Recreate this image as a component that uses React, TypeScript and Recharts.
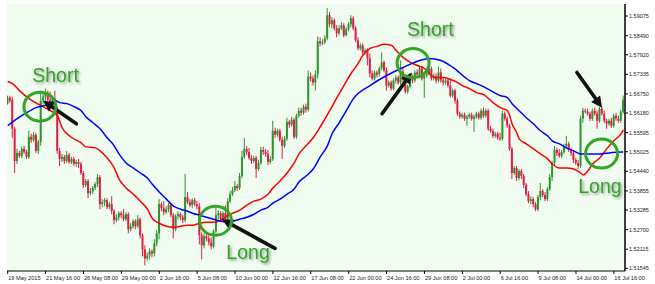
import React from "react";
import {
  ComposedChart,
  XAxis,
  YAxis,
  Bar,
  Line,
  CartesianGrid,
  ReferenceDot,
  ReferenceLine,
} from "recharts";

// H4 candles, 19 May 2015 – 16 Jul 2015 (bar index 0..260)
const opens = [
  1.5646, 1.5664, 1.5658, 1.5571, 1.5475, 1.5499, 1.549, 1.5511, 1.5502, 1.5487,
  1.5547, 1.5538, 1.5553, 1.5505, 1.5532, 1.5655, 1.5667, 1.5679, 1.5658, 1.5643,
  1.5661, 1.5631, 1.5505, 1.5481, 1.5487, 1.5475, 1.5493, 1.5472, 1.5481, 1.5466,
  1.5472, 1.5466, 1.5439, 1.5403, 1.5415, 1.5379, 1.5385, 1.5394, 1.5406, 1.5427,
  1.5346, 1.5352, 1.5358, 1.5337, 1.5346, 1.5325, 1.5298, 1.5307, 1.5319, 1.5313,
  1.5301, 1.5316, 1.5271, 1.528, 1.5295, 1.528, 1.5301, 1.5253, 1.5211, 1.5184,
  1.5193, 1.5205, 1.5199, 1.5229, 1.5259, 1.5346, 1.5334, 1.5322, 1.5331, 1.5343,
  1.5313, 1.5271, 1.531, 1.5316, 1.5307, 1.5298, 1.5367, 1.5352, 1.5343, 1.5358,
  1.5346, 1.534, 1.5253, 1.5223, 1.525, 1.5244, 1.5232, 1.522, 1.5265, 1.5313,
  1.5319, 1.5301, 1.5319, 1.5301, 1.5355, 1.5376, 1.5388, 1.54, 1.5394, 1.543,
  1.5487, 1.5511, 1.5502, 1.5484, 1.5475, 1.5484, 1.5451, 1.5469, 1.5508, 1.5502,
  1.5496, 1.5472, 1.5481, 1.5565, 1.5553, 1.5565, 1.5538, 1.552, 1.5541, 1.5592,
  1.5583, 1.5598, 1.5547, 1.561, 1.5625, 1.5619, 1.5637, 1.5628, 1.5727, 1.5721,
  1.5709, 1.5733, 1.5832, 1.5826, 1.5829, 1.5841, 1.591, 1.5883, 1.5895, 1.5871,
  1.5856, 1.5871, 1.588, 1.585, 1.5868, 1.5883, 1.5901, 1.5871, 1.5835, 1.5811,
  1.582, 1.5799, 1.5805, 1.5781, 1.5736, 1.5721, 1.5739, 1.5733, 1.5751, 1.5769,
  1.5745, 1.57, 1.5709, 1.5691, 1.5715, 1.5724, 1.5709, 1.5742, 1.5718, 1.5682,
  1.5697, 1.5727, 1.5715, 1.5739, 1.5733, 1.5751, 1.5721, 1.573, 1.5736, 1.5751,
  1.5721, 1.5727, 1.5715, 1.5739, 1.5715, 1.5709, 1.5715, 1.57, 1.567, 1.5685,
  1.5655, 1.5616, 1.5607, 1.5613, 1.5601, 1.5607, 1.5613, 1.5601, 1.5607, 1.5616,
  1.5604, 1.5625, 1.561, 1.5625, 1.5571, 1.5565, 1.555, 1.5556, 1.5544, 1.5541,
  1.5616, 1.5601, 1.558, 1.5511, 1.5439, 1.5454, 1.5424, 1.5445, 1.543, 1.5403,
  1.5376, 1.5355, 1.5361, 1.5346, 1.5331, 1.5367, 1.5385, 1.5373, 1.5361, 1.5391,
  1.5427, 1.5469, 1.5508, 1.5499, 1.549, 1.5502, 1.552, 1.5526, 1.5508, 1.5499,
  1.5478, 1.5469, 1.546, 1.5601, 1.5625, 1.5622, 1.5616, 1.5601, 1.5625, 1.5616,
  1.5595, 1.5631, 1.5616, 1.5595, 1.5586, 1.5595, 1.558, 1.561, 1.5601, 1.5595,
  1.5622,
];

const highs = [
  1.567, 1.567, 1.5667, 1.5577, 1.5511, 1.5505, 1.5517, 1.552, 1.5508, 1.5565,
  1.5556, 1.5562, 1.5559, 1.5538, 1.5685, 1.5676, 1.5691, 1.5685, 1.5682, 1.567,
  1.5685, 1.5637, 1.5514, 1.5496, 1.5493, 1.5505, 1.5499, 1.5487, 1.5487, 1.5478,
  1.5481, 1.5472, 1.5445, 1.5421, 1.5421, 1.5394, 1.54, 1.5412, 1.5436, 1.5433,
  1.5361, 1.5364, 1.5364, 1.5352, 1.537, 1.5331, 1.5316, 1.5325, 1.5325, 1.5331,
  1.5322, 1.5322, 1.5289, 1.5301, 1.5301, 1.5313, 1.5307, 1.5259, 1.5223, 1.5202,
  1.5214, 1.5211, 1.5241, 1.5268, 1.5361, 1.5352, 1.5355, 1.534, 1.5349, 1.5349,
  1.5319, 1.5316, 1.5325, 1.5322, 1.5313, 1.5436, 1.5382, 1.5361, 1.5364, 1.5364,
  1.5355, 1.5349, 1.5262, 1.5259, 1.5259, 1.5253, 1.5247, 1.5271, 1.534, 1.5328,
  1.5325, 1.5325, 1.5343, 1.5364, 1.5385, 1.5397, 1.5415, 1.5406, 1.5439, 1.5505,
  1.5544, 1.552, 1.5514, 1.5493, 1.549, 1.549, 1.5478, 1.5517, 1.5517, 1.5511,
  1.5508, 1.549, 1.5595, 1.5574, 1.5571, 1.5571, 1.5547, 1.555, 1.5604, 1.5598,
  1.5607, 1.5604, 1.5616, 1.5634, 1.5634, 1.5643, 1.5646, 1.5745, 1.5739, 1.573,
  1.5745, 1.5847, 1.5844, 1.5838, 1.585, 1.5931, 1.5919, 1.5904, 1.5901, 1.588,
  1.588, 1.5889, 1.5886, 1.5874, 1.5889, 1.591, 1.5907, 1.5877, 1.5844, 1.5826,
  1.5826, 1.5811, 1.5811, 1.5796, 1.5745, 1.5745, 1.5745, 1.5757, 1.5799, 1.5775,
  1.5754, 1.5715, 1.5715, 1.5721, 1.573, 1.573, 1.5775, 1.5751, 1.5727, 1.5703,
  1.5736, 1.5733, 1.5745, 1.5748, 1.5757, 1.5757, 1.5739, 1.5745, 1.576, 1.5757,
  1.5736, 1.5736, 1.5757, 1.5751, 1.5724, 1.5721, 1.5721, 1.5721, 1.5691, 1.5691,
  1.5661, 1.5622, 1.5619, 1.5619, 1.5613, 1.5619, 1.5619, 1.5613, 1.5622, 1.5622,
  1.5631, 1.5634, 1.5631, 1.5631, 1.558, 1.5571, 1.5562, 1.5562, 1.5559, 1.5625,
  1.5622, 1.5607, 1.5586, 1.5517, 1.546, 1.546, 1.5451, 1.5451, 1.5436, 1.5409,
  1.5385, 1.537, 1.5367, 1.5352, 1.5373, 1.5409, 1.5391, 1.5382, 1.5397, 1.5436,
  1.5475, 1.552, 1.5514, 1.5511, 1.5508, 1.5526, 1.555, 1.5532, 1.5514, 1.5505,
  1.5484, 1.5478, 1.561, 1.5634, 1.5631, 1.5631, 1.5622, 1.5631, 1.5634, 1.5625,
  1.5637, 1.5637, 1.5625, 1.5601, 1.5601, 1.5604, 1.5616, 1.5619, 1.561, 1.5628,
  1.567,
];

const lows = [
  1.5643, 1.5649, 1.5544, 1.5439, 1.5466, 1.5484, 1.5484, 1.5496, 1.5481, 1.5481,
  1.5529, 1.5532, 1.5499, 1.5496, 1.552, 1.5643, 1.5652, 1.5652, 1.5637, 1.564,
  1.5625, 1.5496, 1.546, 1.5472, 1.5466, 1.5469, 1.5466, 1.5466, 1.546, 1.5457,
  1.5454, 1.5433, 1.5394, 1.5397, 1.5364, 1.5373, 1.5376, 1.5388, 1.5397, 1.5331,
  1.5337, 1.534, 1.5331, 1.5331, 1.5316, 1.5286, 1.5292, 1.5298, 1.5304, 1.5295,
  1.5295, 1.5259, 1.5265, 1.5274, 1.5271, 1.5274, 1.5244, 1.519, 1.5163, 1.5178,
  1.5181, 1.5187, 1.519, 1.522, 1.5241, 1.5325, 1.5313, 1.5316, 1.5322, 1.5307,
  1.5244, 1.5265, 1.5301, 1.5298, 1.5289, 1.5292, 1.5346, 1.5337, 1.5334, 1.534,
  1.5331, 1.5226, 1.5181, 1.5214, 1.5235, 1.5223, 1.5211, 1.5214, 1.5259, 1.5301,
  1.5295, 1.5295, 1.5292, 1.5295, 1.5349, 1.537, 1.5382, 1.5385, 1.5388, 1.5424,
  1.5481, 1.5493, 1.5478, 1.5466, 1.5469, 1.5424, 1.5445, 1.5463, 1.5493, 1.5487,
  1.5463, 1.5466, 1.5475, 1.5544, 1.5547, 1.5532, 1.5481, 1.5514, 1.5535, 1.5574,
  1.5577, 1.5541, 1.5541, 1.5604, 1.561, 1.5613, 1.5619, 1.5622, 1.5712, 1.57,
  1.5685, 1.5721, 1.5817, 1.582, 1.5823, 1.5835, 1.5874, 1.5871, 1.5865, 1.5844,
  1.585, 1.5865, 1.5844, 1.5847, 1.5862, 1.5874, 1.5865, 1.5829, 1.5805, 1.5805,
  1.579, 1.5793, 1.576, 1.5724, 1.5715, 1.5715, 1.5724, 1.5727, 1.5745, 1.5739,
  1.5685, 1.5694, 1.5685, 1.5685, 1.5706, 1.5703, 1.5703, 1.5712, 1.5676, 1.5676,
  1.5691, 1.5706, 1.5709, 1.5724, 1.5727, 1.5715, 1.5664, 1.5724, 1.573, 1.5715,
  1.5715, 1.5706, 1.5709, 1.5709, 1.57, 1.5703, 1.5694, 1.5664, 1.5664, 1.5646,
  1.561, 1.5601, 1.5601, 1.5595, 1.558, 1.5601, 1.5595, 1.5562, 1.5601, 1.5598,
  1.5598, 1.5604, 1.5604, 1.5565, 1.5559, 1.5544, 1.5544, 1.5538, 1.5535, 1.5535,
  1.5595, 1.5574, 1.5505, 1.5421, 1.5433, 1.5415, 1.5418, 1.5421, 1.5394, 1.537,
  1.5349, 1.5346, 1.5337, 1.5325, 1.5325, 1.5358, 1.5367, 1.5355, 1.5355, 1.5385,
  1.5415, 1.5463, 1.549, 1.5484, 1.5484, 1.5496, 1.5511, 1.5502, 1.549, 1.5469,
  1.5463, 1.5451, 1.5454, 1.5589, 1.5616, 1.561, 1.5595, 1.5595, 1.561, 1.5571,
  1.5589, 1.561, 1.5589, 1.5571, 1.558, 1.5574, 1.5574, 1.5595, 1.5589, 1.5589,
  1.5616,
];

const closes = [
  1.5664, 1.5655, 1.5571, 1.5475, 1.5499, 1.549, 1.5511, 1.5502, 1.5487, 1.5547,
  1.5538, 1.5553, 1.5505, 1.5532, 1.5655, 1.5667, 1.5679, 1.5658, 1.5643, 1.5661,
  1.5631, 1.5505, 1.5481, 1.5487, 1.5475, 1.5493, 1.5472, 1.5481, 1.5466, 1.5472,
  1.5466, 1.5439, 1.5403, 1.5415, 1.5379, 1.5385, 1.5394, 1.5406, 1.5427, 1.5346,
  1.5352, 1.5358, 1.5337, 1.5346, 1.5325, 1.5298, 1.5307, 1.5319, 1.5313, 1.5301,
  1.5316, 1.5271, 1.528, 1.5295, 1.528, 1.5301, 1.5253, 1.5211, 1.5184, 1.5193,
  1.5205, 1.5199, 1.5229, 1.5259, 1.5346, 1.5334, 1.5322, 1.5331, 1.5343, 1.5313,
  1.5271, 1.531, 1.5316, 1.5307, 1.5298, 1.5367, 1.5352, 1.5343, 1.5358, 1.5346,
  1.534, 1.5253, 1.5223, 1.525, 1.5244, 1.5232, 1.522, 1.5265, 1.5313, 1.5319,
  1.5301, 1.5319, 1.5301, 1.5355, 1.5376, 1.5388, 1.54, 1.5394, 1.543, 1.5487,
  1.5511, 1.5502, 1.5484, 1.5475, 1.5484, 1.5451, 1.5469, 1.5508, 1.5502, 1.5496,
  1.5472, 1.5481, 1.5565, 1.5553, 1.5565, 1.5538, 1.552, 1.5541, 1.5592, 1.5583,
  1.5598, 1.5547, 1.561, 1.5625, 1.5619, 1.5637, 1.5628, 1.5727, 1.5721, 1.5709,
  1.5733, 1.5832, 1.5826, 1.5829, 1.5841, 1.591, 1.5883, 1.5895, 1.5871, 1.5856,
  1.5871, 1.588, 1.585, 1.5868, 1.5883, 1.5901, 1.5871, 1.5835, 1.5811, 1.582,
  1.5799, 1.5805, 1.5781, 1.5736, 1.5721, 1.5739, 1.5733, 1.5751, 1.5769, 1.5745,
  1.57, 1.5709, 1.5691, 1.5715, 1.5724, 1.5709, 1.5742, 1.5718, 1.5682, 1.5697,
  1.5727, 1.5715, 1.5739, 1.5733, 1.5751, 1.5721, 1.573, 1.5736, 1.5751, 1.5721,
  1.5727, 1.5715, 1.5739, 1.5715, 1.5709, 1.5715, 1.57, 1.567, 1.5685, 1.5655,
  1.5616, 1.5607, 1.5613, 1.5601, 1.5607, 1.5613, 1.5601, 1.5607, 1.5616, 1.5604,
  1.5625, 1.561, 1.5625, 1.5571, 1.5565, 1.555, 1.5556, 1.5544, 1.5541, 1.5616,
  1.5601, 1.558, 1.5511, 1.5439, 1.5454, 1.5424, 1.5445, 1.543, 1.5403, 1.5376,
  1.5355, 1.5361, 1.5346, 1.5331, 1.5367, 1.5385, 1.5373, 1.5361, 1.5391, 1.5427,
  1.5469, 1.5508, 1.5499, 1.549, 1.5502, 1.552, 1.5526, 1.5508, 1.5499, 1.5478,
  1.5469, 1.546, 1.5601, 1.5625, 1.5622, 1.5616, 1.5601, 1.5625, 1.5616, 1.5595,
  1.5631, 1.5616, 1.5595, 1.5586, 1.5595, 1.558, 1.561, 1.5601, 1.5595, 1.5622,
  1.5658,
];

// Fast moving average (red): [bar index, price]
const fastMa: [number, number][] = [
  [0, 1.5712], [2, 1.5706], [5, 1.5685], [9, 1.5661], [14, 1.564], [18, 1.5625],
  [21, 1.561], [23, 1.5574], [26, 1.555], [31, 1.5529], [33, 1.5517], [37, 1.5514],
  [39, 1.5505], [42, 1.5484], [45, 1.5454], [47, 1.5421], [50, 1.5394], [53, 1.5376],
  [56, 1.5355], [59, 1.5331], [61, 1.5304], [64, 1.5289], [67, 1.528], [70, 1.5277],
  [73, 1.528], [76, 1.5283], [78, 1.5283], [81, 1.5289], [84, 1.5292], [87, 1.5292],
  [90, 1.5298], [93, 1.5313], [95, 1.5319], [98, 1.5328], [101, 1.5343], [104, 1.5355],
  [107, 1.5361], [110, 1.5376], [112, 1.5394], [115, 1.5415], [118, 1.5439], [121, 1.5469],
  [123, 1.5496], [126, 1.552], [129, 1.5544], [132, 1.5577], [136, 1.5625], [139, 1.5664],
  [142, 1.57], [145, 1.5736], [148, 1.5766], [150, 1.579], [153, 1.5811], [156, 1.5817],
  [159, 1.5823], [162, 1.582], [164, 1.5805], [167, 1.5784], [170, 1.5769], [173, 1.576],
  [176, 1.5751], [178, 1.5736], [181, 1.5724], [184, 1.5724], [187, 1.5718], [190, 1.5709],
  [192, 1.57], [195, 1.5691], [198, 1.5679], [201, 1.5673], [205, 1.5649], [208, 1.5634],
  [211, 1.5625], [212, 1.561], [213, 1.5586], [215, 1.5559], [216, 1.5541], [219, 1.5526],
  [222, 1.5511], [225, 1.5496], [228, 1.5481], [230, 1.5466], [233, 1.5454], [236, 1.5454],
  [239, 1.5451], [242, 1.5439], [243, 1.5433], [245, 1.5445], [247, 1.5466], [250, 1.5484],
  [253, 1.5511], [256, 1.5535], [259, 1.5556], [260, 1.5568],
];

// Slow moving average (blue): [bar index, price]
const slowMa: [number, number][] = [
  [0, 1.558], [4, 1.5601], [8, 1.5619], [12, 1.5634], [18, 1.5646], [20, 1.5655],
  [22, 1.5649], [25, 1.5646], [28, 1.5637], [31, 1.5625], [33, 1.5607], [36, 1.5589],
  [39, 1.5571], [42, 1.5544], [45, 1.552], [47, 1.5496], [50, 1.5469], [53, 1.5454],
  [56, 1.5439], [59, 1.5424], [61, 1.5406], [64, 1.5382], [67, 1.5361], [70, 1.534],
  [73, 1.5331], [76, 1.5325], [78, 1.5319], [81, 1.5313], [84, 1.5307], [87, 1.5301],
  [90, 1.5295], [93, 1.5292], [95, 1.5295], [98, 1.5301], [101, 1.5307], [104, 1.5316],
  [107, 1.5328], [110, 1.5337], [112, 1.5349], [115, 1.5361], [118, 1.5376], [121, 1.5391],
  [123, 1.5412], [126, 1.543], [129, 1.5451], [132, 1.5487], [135, 1.552], [137, 1.5556],
  [140, 1.5589], [143, 1.5625], [146, 1.5661], [153, 1.57], [160, 1.573], [167, 1.5754],
  [174, 1.5775], [178, 1.5781], [183, 1.5775], [188, 1.5754], [195, 1.5715], [200, 1.57],
  [204, 1.5685], [208, 1.567], [211, 1.5664], [213, 1.5646], [216, 1.5625], [219, 1.5604],
  [222, 1.5586], [225, 1.5565], [228, 1.555], [230, 1.5535], [233, 1.5526], [236, 1.5514],
  [239, 1.5505], [242, 1.5496], [246, 1.5496], [250, 1.5496], [254, 1.5499], [259, 1.5502],
  [260, 1.5502],
];

const timeTicks = [0, 16, 32, 48, 64, 80, 96, 112, 128, 144, 160, 176, 192, 208, 224, 240, 256];
const timeLabels = [
  "19 May 2015", "21 May 16:00", "26 May 08:00", "29 May 00:00", "2 Jun 16:00",
  "5 Jun 08:00", "10 Jun 00:00", "12 Jun 16:00", "17 Jun 08:00", "22 Jun 00:00",
  "24 Jun 16:00", "29 Jun 08:00", "2 Jul 00:00", "6 Jul 16:00", "9 Jul 08:00",
  "14 Jul 00:00", "16 Jul 16:00",
];

const priceTicks = [
  1.51545, 1.52115, 1.527, 1.53285, 1.53855, 1.5444, 1.55025,
  1.55595, 1.5618, 1.5675, 1.57335, 1.5792, 1.5849, 1.59075,
];

// Crossover markers: ring centre, arrow (tail -> head), signal caption
const crossRings = [
  { bar: 13.6, price: 1.5637 },
  { bar: 87.75, price: 1.52965 },
  { bar: 171.2, price: 1.5767 },
  { bar: 250.8, price: 1.5497 },
];
const crossArrows = [
  { fromBar: 29.0, fromPrice: 1.5586, toBar: 14.9, toPrice: 1.5655 },
  { fromBar: 112.9, fromPrice: 1.5214, toBar: 90.5, toPrice: 1.5301 },
  { fromBar: 158.1, fromPrice: 1.5616, toBar: 170.7, toPrice: 1.5739 },
  { fromBar: 240.4, fromPrice: 1.5739, toBar: 251.0, toPrice: 1.5634 },
];
const signals = [
  { text: "Short", bar: 20.2, price: 1.5712 },
  { text: "Long", bar: 101.5, price: 1.5181 },
  { text: "Short", bar: 178.5, price: 1.5847 },
  { text: "Long", bar: 250.1, price: 1.5379 },
];

const BULL = "#2f9331";
const BEAR = "#e11d48";
const SIGNAL = "#34a428";
const FONT = "'Liberation Sans', Arial, sans-serif";

const fastByBar = new Map<number, number>(fastMa);
const slowByBar = new Map<number, number>(slowMa);

const rows = closes.map((close, i) => ({
  i,
  open: opens[i],
  high: highs[i],
  low: lows[i],
  close,
  range: [lows[i], highs[i]],
  fast: fastByBar.has(i) ? fastByBar.get(i) : null,
  slow: slowByBar.has(i) ? slowByBar.get(i) : null,
}));

const Candle = (props: any) => {
  const { x, y, width, height, payload } = props;
  if (x == null || y == null || !payload) return null;
  const { open, high, low, close } = payload;
  const color = close >= open ? BULL : BEAR;
  const top = Math.min(y, y + height);
  const span = Math.abs(height);
  const k = high > low ? span / (high - low) : 0;
  const cx = x + width / 2;
  const bodyTop = top + (high - Math.max(open, close)) * k;
  const bodyBottom = top + (high - Math.min(open, close)) * k;
  return (
    <g>
      <line x1={cx} x2={cx} y1={top} y2={top + span} stroke={color} strokeWidth={1} />
      <rect
        x={cx - 1}
        y={bodyTop}
        width={2}
        height={Math.max(1, bodyBottom - bodyTop)}
        fill={color}
      />
    </g>
  );
};

const TimeTick = (props: any) => {
  const { x, y, payload } = props;
  const k = timeTicks.indexOf(payload.value);
  return (
    <text x={x + 0.5} y={y} dy="0.72em" textAnchor="start" fontSize={5.6} fontFamily={FONT} fill="#1a1a1a">
      {timeLabels[k]}
    </text>
  );
};

const PriceTick = (props: any) => {
  const { x, y, payload } = props;
  return (
    <text x={x} y={y} dy="0.35em" textAnchor="start" fontSize={5.5} fontFamily={FONT} fill="#1a1a1a">
      {Number(payload.value).toFixed(5)}
    </text>
  );
};

const Ring = (p: any) => (
  <ellipse cx={p.cx} cy={p.cy} rx={16} ry={14.5} fill="none" stroke={SIGNAL} strokeWidth={3} />
);

const ArrowShape = (p: any) => {
  const { x1, y1, x2, y2 } = p;
  const dx = x2 - x1;
  const dy = y2 - y1;
  const len = Math.hypot(dx, dy) || 1;
  const ux = dx / len;
  const uy = dy / len;
  const head = 11;
  const half = 5.5;
  const bx = x2 - ux * head;
  const by = y2 - uy * head;
  const pts = `${x2},${y2} ${bx - uy * half},${by + ux * half} ${bx + uy * half},${by - ux * half}`;
  return (
    <g>
      <line x1={x1} y1={y1} x2={bx + ux} y2={by + uy} stroke="#111" strokeWidth={3.6} strokeLinecap="round" />
      <polygon points={pts} fill="#111" />
    </g>
  );
};

const makeCaption = (text: string, id: string) => (p: any) => (
  <g>
    <defs>
      <filter id={id} x="-20%" y="-30%" width="150%" height="170%">
        <feDropShadow dx="1.5" dy="1.5" stdDeviation="1" floodColor="#2a2a2a" floodOpacity="0.45" />
      </filter>
    </defs>
    <text
      x={p.cx}
      y={p.cy}
      textAnchor="middle"
      fontSize={19.5}
      fontFamily={FONT}
      fill={SIGNAL}
      filter={`url(#${id})`}
    >
      {text}
    </text>
  </g>
);

const W = 655;
const H = 284;
const X_DOMAIN: [number, number] = [-0.3, 260.7];
const Y_DOMAIN: [number, number] = [1.51465, 1.59434];

export default function App() {
  return (
    <div style={{ position: "fixed", left: 0, top: 0, width: W, height: H, background: "#ffffff" }}>
      <ComposedChart width={W} height={H} data={rows} margin={{ top: 4, right: 0, bottom: 0, left: 7 }}>
        <CartesianGrid fill="#effcef" stroke="none" horizontal={false} vertical={false} />
        <XAxis
          type="number"
          dataKey="i"
          domain={X_DOMAIN}
          allowDataOverflow
          ticks={timeTicks}
          interval={0}
          height={13}
          tickSize={3}
          tickMargin={2}
          axisLine={{ stroke: "#000" }}
          tickLine={{ stroke: "#000" }}
          tick={<TimeTick />}
        />
        <YAxis
          yAxisId="frame"
          orientation="left"
          width={0}
          domain={Y_DOMAIN}
          allowDataOverflow
          tick={false}
          tickLine={false}
          axisLine={{ stroke: "#9a9a9a" }}
        />
        <YAxis
          orientation="right"
          width={30}
          domain={Y_DOMAIN}
          allowDataOverflow
          ticks={priceTicks}
          interval={0}
          tickSize={3}
          tickMargin={1}
          axisLine={{ stroke: "#000", strokeWidth: 1.5 }}
          tickLine={{ stroke: "#000" }}
          tick={<PriceTick />}
        />
        <Bar dataKey="range" shape={<Candle />} barSize={2} isAnimationActive={false} />
        <Line
          type="monotone"
          dataKey="fast"
          stroke="#ff0000"
          strokeWidth={1.5}
          dot={false}
          activeDot={false}
          connectNulls
          isAnimationActive={false}
        />
        <Line
          type="monotone"
          dataKey="slow"
          stroke="#0000ff"
          strokeWidth={1.5}
          dot={false}
          activeDot={false}
          connectNulls
          isAnimationActive={false}
        />
        {crossRings.map((r, k) => (
          <ReferenceDot key={`ring-${k}`} x={r.bar} y={r.price} r={16} ifOverflow="visible" shape={Ring} />
        ))}
        {crossArrows.map((a, k) => (
          <ReferenceLine
            key={`arrow-${k}`}
            segment={[
              { x: a.fromBar, y: a.fromPrice },
              { x: a.toBar, y: a.toPrice },
            ]}
            ifOverflow="visible"
            shape={ArrowShape}
          />
        ))}
        {signals.map((s, k) => (
          <ReferenceDot
            key={`sig-${k}`}
            x={s.bar}
            y={s.price}
            r={1}
            ifOverflow="visible"
            shape={makeCaption(s.text, `signal-shadow-${k}`)}
          />
        ))}
      </ComposedChart>
    </div>
  );
}
